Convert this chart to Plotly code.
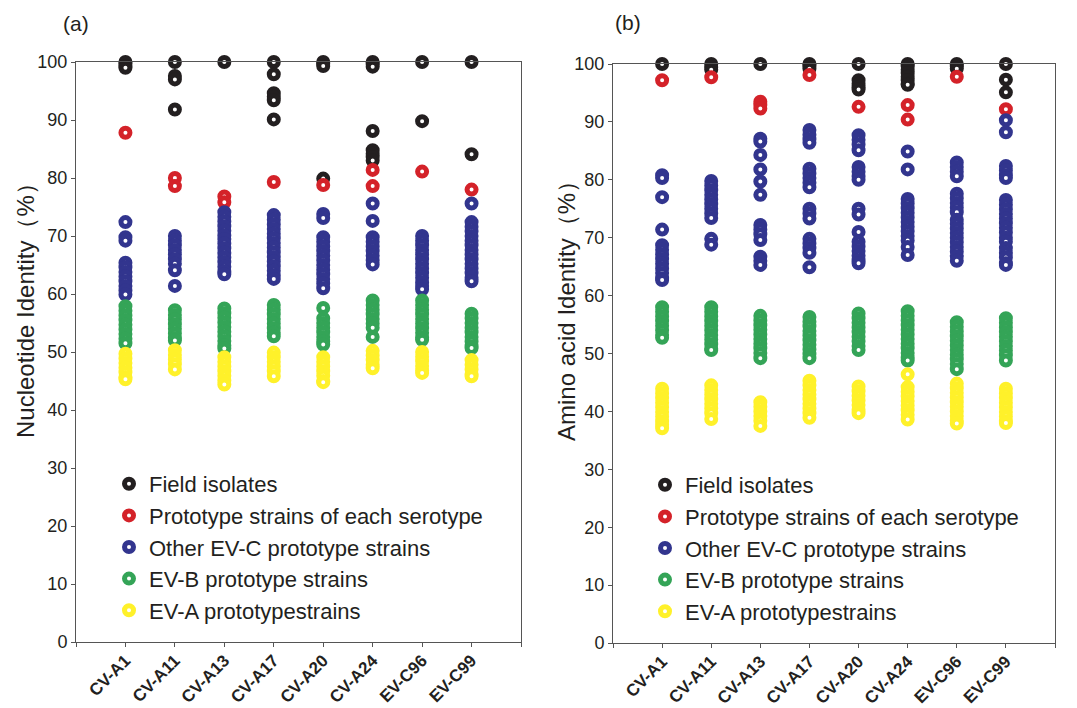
import plotly.graph_objects as go

categories = ["CV-A1", "CV-A11", "CV-A13", "CV-A17", "CV-A20", "CV-A24", "EV-C96", "EV-C99"]
group_names = ["Field isolates", "Prototype strains of each serotype",
               "Other EV-C prototype strains", "EV-B prototype strains",
               "EV-A prototypestrains"]
group_colors = ["#231f20", "#d42229", "#32358e", "#34a457", "#fff12a"]

# ---------------- (a) Nucleotide identity (%) ----------------
nt_field = [
    [100, 99.7, 99.3, 99.0],
    [100, 97.6, 97.0, 91.8],
    [100],
    [100, 97.9, 94.6, 94.0, 93.4, 90.1],
    [100, 99.7, 99.3, 79.9],
    [100, 99.6, 99.2, 88.1, 84.8, 84.2, 83.6, 83.0],
    [100, 89.8],
    [100, 84.1],
]
nt_proto = [
    [87.8],
    [80.0, 78.6],
    [76.8, 75.8],
    [79.3],
    [78.8],
    [81.4, 78.6],
    [81.1],
    [78.0],
]
nt_evc = [
    [72.4, 69.8, 69.2, 65.4, 64.6, 63.8, 63.0, 62.2, 61.4, 60.6, 59.9],
    [70.0, 69.2, 68.4, 67.6, 66.8, 66.0, 65.2, 64.1, 61.4],
    [74.1, 73.3, 72.5, 71.7, 70.9, 70.1, 69.5, 68.7, 67.9, 67.1, 66.3, 65.5, 64.7, 63.9, 63.4],
    [73.6, 72.8, 72.0, 71.2, 70.4, 69.6, 68.8, 68.0, 67.2, 66.4, 65.6, 64.8, 64.0, 63.2, 62.6],
    [73.8, 73.1, 69.8, 69.0, 68.2, 67.4, 66.6, 65.8, 65.0, 64.2, 63.4, 62.6, 61.8, 61.0],
    [75.6, 72.6, 69.8, 69.0, 68.2, 67.4, 66.6, 65.8, 65.1],
    [70.0, 69.2, 68.4, 67.6, 66.8, 66.0, 65.2, 64.4, 63.6, 62.8, 62.0, 61.4, 60.8],
    [75.6, 72.4, 71.6, 70.8, 70.0, 69.2, 68.4, 67.6, 66.8, 66.0, 65.2, 64.4, 63.6, 62.8, 62.2],
]
nt_evb = [
    [57.9, 57.1, 56.3, 55.5, 54.7, 53.9, 53.1, 52.3, 51.5],
    [57.2, 56.4, 55.6, 54.8, 54.0, 53.2, 52.4, 52.0],
    [57.5, 56.7, 55.9, 55.1, 54.3, 53.5, 52.7, 51.9, 51.1, 50.6],
    [58.1, 57.3, 56.5, 55.7, 54.9, 54.1, 53.3, 52.7],
    [57.6, 55.8, 55.0, 54.2, 53.4, 52.6, 51.8, 51.3],
    [58.9, 58.1, 57.3, 56.5, 55.7, 54.9, 54.2, 52.6],
    [58.9, 58.1, 57.3, 56.5, 55.7, 54.9, 54.1, 53.3, 52.5, 52.1],
    [56.6, 55.8, 55.0, 54.2, 53.4, 52.6, 51.8, 51.0, 50.7],
]
nt_eva = [
    [49.7, 48.9, 48.1, 47.3, 46.5, 45.7, 45.3],
    [50.3, 49.5, 48.7, 47.9, 47.0],
    [49.1, 48.3, 47.5, 46.7, 45.9, 45.1, 44.4],
    [49.9, 49.1, 48.3, 47.5, 46.7, 45.8],
    [49.1, 48.3, 47.5, 46.7, 45.9, 45.0, 44.8],
    [50.2, 49.4, 48.6, 47.8, 47.2],
    [50.0, 49.2, 48.4, 47.6, 46.8, 46.4],
    [48.6, 47.8, 47.0, 46.2, 45.8],
]

# ---------------- (b) Amino acid identity (%) ----------------
aa_field = [
    [100],
    [100, 99.5, 99.0],
    [100],
    [100, 99.6, 99.2],
    [100, 97.2, 96.6, 96.0, 95.6],
    [100, 99.6, 99.0, 98.4, 97.8, 97.2, 96.6, 96.4],
    [100, 99.6, 99.2],
    [100, 97.3, 95.1],
]
aa_proto = [
    [97.2],
    [97.7],
    [93.5, 92.9, 92.3],
    [98.1],
    [92.6],
    [92.9, 90.4],
    [97.8],
    [92.2],
]
aa_evc = [
    [80.8, 80.3, 77.0, 71.4, 68.7, 67.9, 67.1, 66.3, 65.5, 64.7, 63.9, 63.0, 62.7],
    [79.8, 79.0, 78.2, 77.4, 76.6, 75.8, 75.0, 74.2, 73.4, 69.8, 68.8],
    [87.1, 86.6, 84.3, 81.8, 79.7, 77.4, 72.2, 71.4, 70.6, 69.6, 66.7, 66.0, 65.3],
    [88.6, 87.8, 87.0, 86.4, 81.9, 81.1, 80.3, 79.5, 78.7, 75.0, 74.2, 73.3, 69.8, 69.0, 68.2, 67.4, 64.9],
    [87.7, 86.9, 86.1, 85.1, 82.2, 81.4, 80.6, 80.0, 75.0, 74.0, 71.0, 69.3, 68.5, 67.7, 66.9, 66.1, 65.6],
    [84.9, 81.8, 76.7, 75.9, 75.1, 74.3, 73.5, 72.7, 71.9, 71.1, 70.3, 69.5, 68.4, 67.0],
    [83.0, 82.2, 81.4, 80.6, 77.6, 76.8, 76.0, 75.2, 74.4, 73.1, 72.4, 71.6, 70.8, 70.0, 69.2, 68.4, 67.6, 66.8, 66.0],
    [90.3, 88.2, 82.4, 81.6, 80.8, 80.3, 76.5, 75.7, 74.9, 74.1, 73.3, 72.5, 71.7, 70.9, 70.0, 69.3, 68.2, 67.4, 66.6, 65.6, 65.3],
]
aa_evb = [
    [58.0, 57.2, 56.4, 55.6, 54.8, 54.0, 53.2, 52.7],
    [58.0, 57.2, 56.4, 55.6, 54.8, 54.0, 53.2, 52.4, 51.6, 50.8, 50.6],
    [56.5, 55.7, 54.9, 54.1, 53.3, 52.5, 51.7, 50.9, 50.1, 49.2],
    [56.3, 55.5, 54.7, 53.9, 53.1, 52.3, 51.5, 50.7, 49.9, 49.2],
    [56.9, 56.1, 55.3, 54.5, 53.7, 52.9, 52.1, 51.3, 50.6],
    [57.3, 56.5, 55.7, 54.9, 54.1, 53.3, 52.5, 51.7, 50.9, 50.1, 49.3, 48.8],
    [55.4, 54.6, 53.8, 53.0, 52.2, 51.4, 50.6, 49.8, 49.0, 48.2, 47.3],
    [56.1, 55.3, 54.5, 53.7, 52.9, 52.1, 51.3, 50.5, 49.7, 48.8],
]
aa_eva = [
    [43.9, 43.1, 42.3, 41.5, 40.7, 39.9, 39.1, 38.3, 37.7, 37.1],
    [44.5, 43.7, 42.9, 42.1, 41.3, 40.5, 39.7, 38.7],
    [41.6, 40.8, 40.0, 39.2, 38.4, 37.5],
    [45.3, 44.5, 43.7, 42.9, 42.1, 41.3, 40.5, 39.7, 38.9],
    [44.3, 43.5, 42.7, 41.9, 41.1, 40.3, 39.7],
    [46.4, 44.2, 43.4, 42.6, 41.8, 41.0, 40.2, 39.4, 38.6],
    [44.8, 44.0, 43.2, 42.4, 41.6, 40.8, 40.0, 39.2, 38.4, 37.9],
    [43.9, 43.1, 42.3, 41.5, 40.7, 39.9, 39.1, 38.3, 38.0],
]

y_ticks = list(range(0, 101, 10))

# page body has an 8px margin: the figure starts at (8, 8) in the window
OFF = 8
W, H = 1077 - OFF, 708 - OFF
FONT = "Arial, Liberation Sans, sans-serif"
TXT = "#231f20"
AX = "#555555"


def px_x(sx):
    return (sx - OFF) / W


def px_y(sy):
    return 1 - (sy - OFF) / H


fig = go.Figure()

panels = [
    ("x", "y", "legend", [nt_field, nt_proto, nt_evc, nt_evb, nt_eva]),
    ("x2", "y2", "legend2", [aa_field, aa_proto, aa_evc, aa_evb, aa_eva]),
]
for xa, ya, lg, groups in panels:
    for name, color, data in zip(group_names, group_colors, groups):
        xs, ys = [], []
        for ci, vals in enumerate(data):
            for v in vals:
                xs.append(ci + 1)
                ys.append(v)
        fig.add_trace(go.Scatter(
            x=xs, y=ys, mode="markers", name=name, xaxis=xa, yaxis=ya,
            legend=lg, cliponaxis=False,
            marker=dict(symbol="circle", size=9, color="white",
                        line=dict(color=color, width=5)),
        ))


def xaxis_style(domain, anchor):
    return dict(domain=domain, anchor=anchor, range=[0, 9], tickmode="array",
                tickvals=list(range(0, 10)), ticktext=[""] + categories + [""],
                tickangle=-45, ticks="outside", ticklen=4, tickcolor=AX,
                ticklabelstandoff=-3,
                showline=True, linecolor=AX, linewidth=1, mirror=True,
                showgrid=False, zeroline=False, automargin=False,
                tickfont=dict(family=FONT, size=17, color=TXT, weight="bold"))


def yaxis_style(domain, anchor):
    return dict(domain=domain, anchor=anchor, range=[0, 100], tickmode="array",
                tickvals=y_ticks, ticks="outside", ticklen=4, tickcolor=AX,
                showline=True, linecolor=AX, linewidth=1, mirror=True,
                showgrid=False, zeroline=False, automargin=False,
                tickfont=dict(family=FONT, size=18, color=TXT))


fig.update_layout(
    width=W, height=H,
    margin=dict(l=0, r=0, t=0, b=0, pad=0, autoexpand=False),
    paper_bgcolor="white", plot_bgcolor="white",
    font=dict(family=FONT, color=TXT),
    xaxis=xaxis_style([px_x(76), px_x(521)], "y"),
    yaxis=yaxis_style([px_y(642), px_y(62)], "x"),
    xaxis2=xaxis_style([px_x(613), px_x(1055)], "y2"),
    yaxis2=yaxis_style([px_y(643), px_y(64)], "x2"),
    legend=dict(x=px_x(109), y=px_y(463), xanchor="left", yanchor="top",
                bgcolor="rgba(0,0,0,0)", font=dict(family=FONT, size=22, color=TXT),
                tracegroupgap=0, itemclick=False),
    legend2=dict(x=px_x(645), y=px_y(464), xanchor="left", yanchor="top",
                 bgcolor="rgba(0,0,0,0)", font=dict(family=FONT, size=22, color=TXT),
                 tracegroupgap=0, itemclick=False),
    annotations=[
        dict(text="(a)", x=px_x(76), y=px_y(23), xref="paper", yref="paper",
             xanchor="center", yanchor="middle", showarrow=False,
             font=dict(family=FONT, size=21, color=TXT)),
        dict(text="(b)", x=px_x(628), y=px_y(22), xref="paper", yref="paper",
             xanchor="center", yanchor="middle", showarrow=False,
             font=dict(family=FONT, size=21, color=TXT)),
        dict(text="Nucleotide Identity（%）", x=px_x(25), y=px_y(305),
             xref="paper", yref="paper", xanchor="center", yanchor="middle",
             showarrow=False, textangle=-90,
             font=dict(family=FONT, size=24, color=TXT)),
        dict(text="Amino acid Identity（%）", x=px_x(566), y=px_y(305),
             xref="paper", yref="paper", xanchor="center", yanchor="middle",
             showarrow=False, textangle=-90,
             font=dict(family=FONT, size=24, color=TXT)),
    ],
)

fig.write_html("out.html")
